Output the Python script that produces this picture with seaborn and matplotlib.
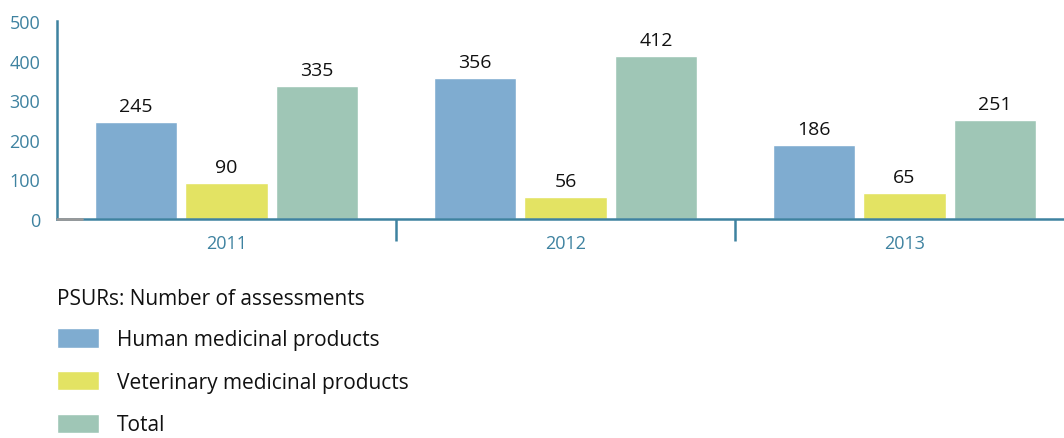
import matplotlib
matplotlib.use("Agg")
import matplotlib.pyplot as plt
import seaborn as sns
import pandas as pd

years = ["2011", "2012", "2013"]
human = [245, 356, 186]
veterinary = [90, 56, 65]
total = [335, 412, 251]
series_names = ["Human medicinal products", "Veterinary medicinal products", "Total"]
colors = ["#7facd0", "#e3e363", "#9fc6b6"]
legend_title = "PSURs: Number of assessments"

teal = "#3e82a0"

sns.set_theme(style="white")
plt.rcParams["font.family"] = ["Open Sans", "DejaVu Sans"]
plt.rcParams["text.color"] = "#111111"

df = pd.DataFrame({
    "year": years * 3,
    "value": human + veterinary + total,
    "series": [series_names[0]] * 3 + [series_names[1]] * 3 + [series_names[2]] * 3,
})

W, H = 1064, 439
fig = plt.figure(figsize=(W / 100, H / 100), dpi=100)
ax = fig.add_axes([57 / W, (H - 220) / H, (W - 57) / W, 198 / H])

sns.barplot(data=df, x="year", y="value", hue="series", hue_order=series_names,
            palette=colors, width=0.8, gap=0.09, saturation=1, ax=ax, legend=True)

for cont in ax.containers:
    ax.bar_label(cont, padding=5, fontsize=14, color="#111111")

ax.set_ylim(0, 500)
ax.set_yticks([0, 100, 200, 300, 400, 500])
ax.set_xlim(-0.5, (W - 57) / 339 - 0.5)
ax.set_xlabel("")
ax.set_ylabel("")

for s in ["top", "right"]:
    ax.spines[s].set_visible(False)
for s in ["left", "bottom"]:
    ax.spines[s].set_color(teal)
    ax.spines[s].set_linewidth(1.8)

ax.tick_params(axis="y", left=False, length=0, pad=12, labelsize=13, labelcolor=teal)
ax.tick_params(axis="x", which="major", length=0, pad=11, labelsize=13, labelcolor=teal)
# group separators below the baseline
ax.set_xticks([0.5, 1.5], minor=True)
ax.tick_params(axis="x", which="minor", bottom=True, length=16, width=1.8,
               color=teal, direction="out")

# short grey stub at the origin
ax.axhline(0, xmin=0, xmax=25 / (W - 57), color="#999999", lw=2, zorder=5, clip_on=False)

handles, labels = ax.get_legend_handles_labels()
ax.get_legend().remove()
leg = fig.legend(handles, labels, title=legend_title, loc="upper left",
                 bbox_to_anchor=(57 / W, 1 - 289 / H), frameon=False,
                 fontsize=15, title_fontsize=15, handlelength=2.0, handleheight=1.05,
                 labelspacing=1.0, handletextpad=0.87, borderaxespad=0, borderpad=0)
leg._legend_box.align = "left"
leg._legend_box.sep = 14

fig.savefig("out.png", dpi=100)
